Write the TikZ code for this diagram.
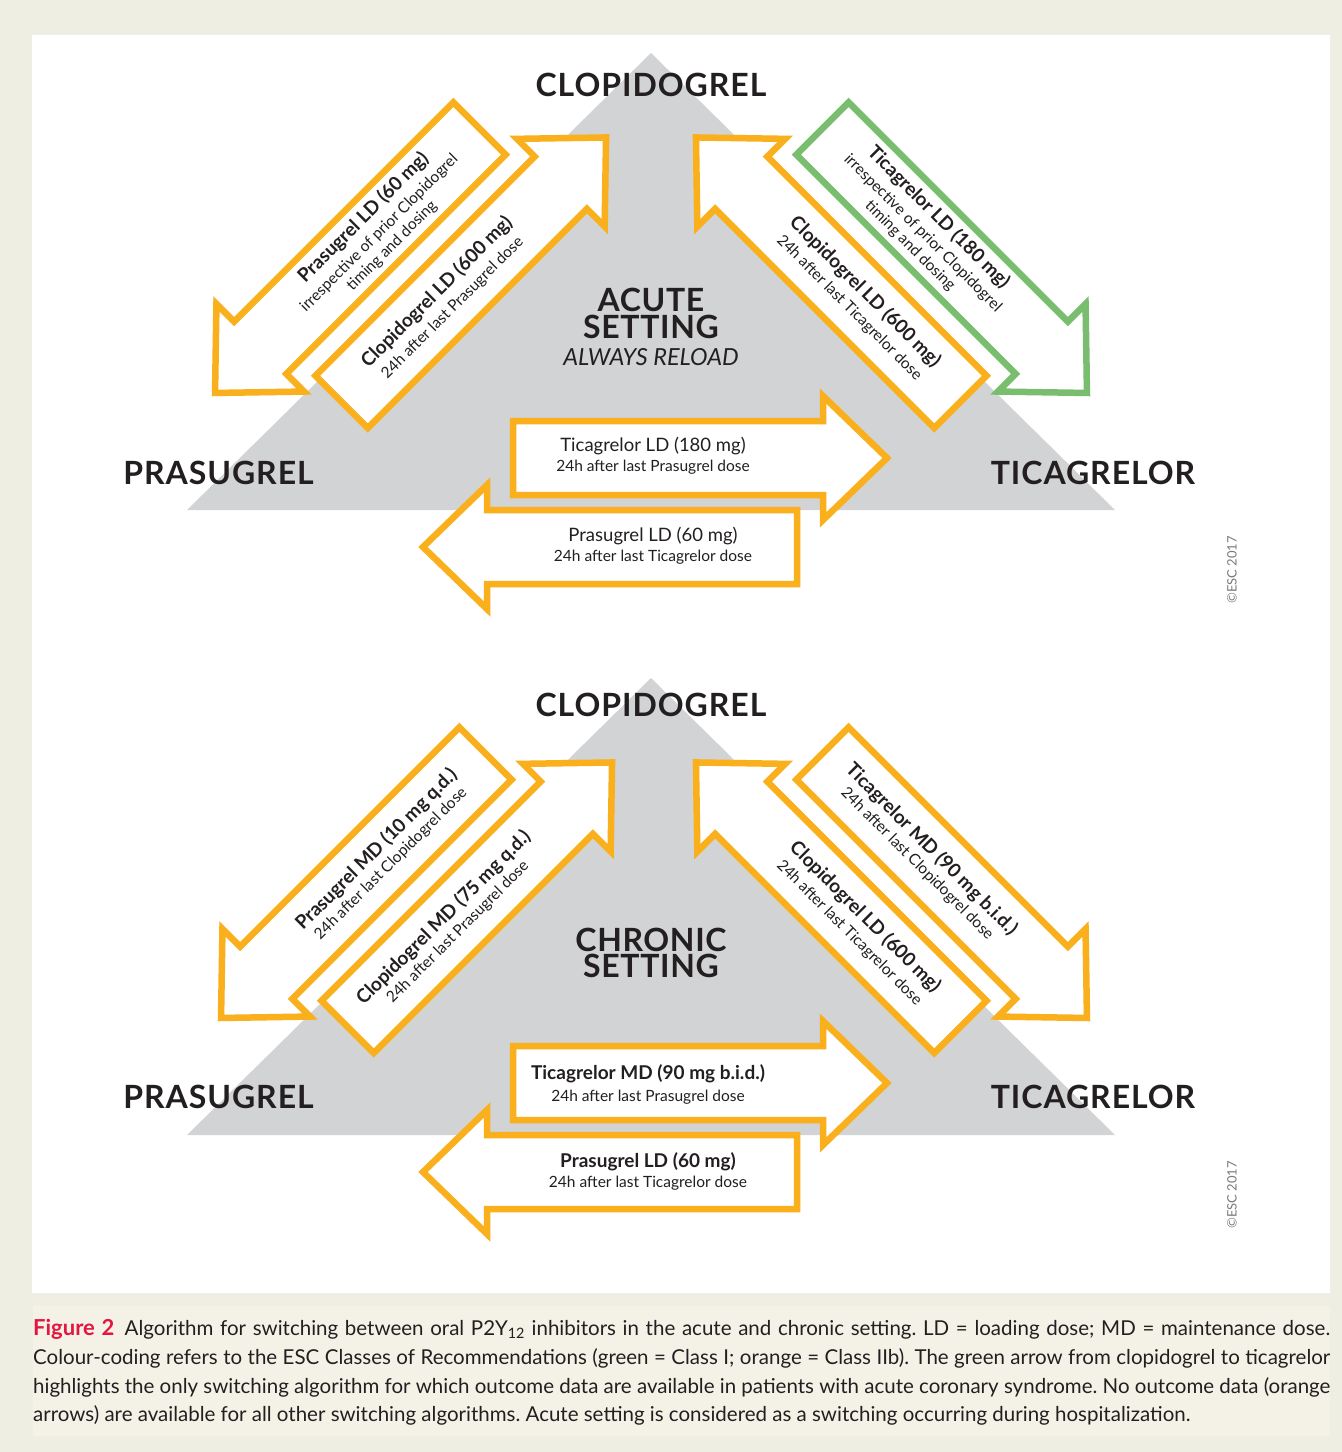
\documentclass[tikz,border=0pt]{standalone}
\usepackage{fontspec}
\setmainfont{Lato}

\definecolor{escorange}{HTML}{FAAF1C}
\definecolor{escgreen}{HTML}{78BE6E}
\definecolor{escgrey}{HTML}{D1D3D4}
\definecolor{escbeige}{HTML}{EFEEE3}
\definecolor{esccaption}{HTML}{F4F2E7}
\definecolor{escred}{HTML}{E2163F}
\definecolor{esctext}{HTML}{231F20}
\definecolor{esccopy}{HTML}{7A7A7A}

% block arrow: [colour]{name}{tail point}{angle}
\newcommand{\blockarrow}[4][escorange]{%
  \begin{scope}[shift={(#3)}, rotate=#4]
    \draw[blockline, draw=#1] (0,-37) -- (310,-37) -- (310,-62) -- (374,0)
      -- (310,62) -- (310,37) -- (0,37) -- cycle;
    \coordinate (#2) at (145,0);
  \end{scope}}
\newcommand{\headfont}{\fontsize{19}{21}\selectfont\bfseries}
\newcommand{\midfont}{\fontsize{18.5}{21}\selectfont}

\begin{document}
\begin{tikzpicture}[x=1pt, y=-1pt,
    blockline/.style={fill=white, line width=6.5pt, line join=miter},
    drug/.style={anchor=base, inner sep=0pt, text=esctext,
      font=\fontsize{32}{32}\selectfont\bfseries\addfontfeature{LetterSpace=3}},
    setting/.style={anchor=base, inner sep=0pt, text=esctext,
      font=\fontsize{32}{32}\selectfont\bfseries\addfontfeature{LetterSpace=2}},
    dose/.style={align=center, inner sep=0pt, text=esctext, font=\fontsize{15.5}{18}\selectfont},
    copyr/.style={rotate=90, inner sep=0pt, text=esccopy, font=\fontsize{13}{13}\selectfont},
  ]
  \useasboundingbox (0,0) rectangle (1342,1452);
  \fill[escbeige] (0,0) rectangle (1342,1452);
  \fill[white] (32,35) rectangle (1330,1293);
  \fill[esccaption] (33,1306) rectangle (1330,1436);

  % acute setting
  \fill[escgrey] (651,53) -- (1115,510) -- (187,510) -- cycle;
  \blockarrow{pa}{479.5,128.5}{225}
  \blockarrow{ca}{341.6,401.9}{45}
  \blockarrow{cb}{960.4,401.9}{135}
  \blockarrow[escgreen]{ta}{822.5,128.5}{-45}
  \blockarrow{tb}{513,458}{0}
  \blockarrow{pb}{797,547}{180}

  \node[dose, rotate=45] (pa-text) at (pa) {{\headfont Prasugrel LD (60 mg)}\\[3pt]irrespective of prior Clopidogrel\\timing and dosing};
  \node[dose, rotate=45] (ca-text) at (ca) {{\headfont Clopidogrel LD (600 mg)}\\[3pt]24h after last Prasugrel dose};
  \node[dose, rotate=-45] (cb-text) at (cb) {{\headfont Clopidogrel LD (600 mg)}\\[3pt]24h after last Ticagrelor dose};
  \node[dose, rotate=-45] (ta-text) at (ta) {{\headfont Ticagrelor LD (180 mg)}\\[3pt]irrespective of prior Clopidogrel\\timing and dosing};
  \node[dose] (tb-text) at (653,456) {{\midfont Ticagrelor LD (180 mg)}\\[2pt]24h after last Prasugrel dose};
  \node[dose] (pb-text) at (653,546) {{\midfont Prasugrel LD (60 mg)}\\[2pt]24h after last Ticagrelor dose};

  \node[drug] (clop1) at (651,96) {CLOPIDOGREL};
  \node[drug] (pras1) at (218.5,484) {PRASUGREL};
  \node[drug] (tica1) at (1093,484) {TICAGRELOR};
  \node[setting] (acute) at (651,311) {ACUTE};
  \node[setting] (set1) at (651,338) {SETTING};
  \node[anchor=base, inner sep=0pt, text=esctext, font=\fontsize{23.5}{23.5}\selectfont\itshape] (reload) at (651,365) {ALWAYS RELOAD};
  \node[copyr] (esc1) at (1232,570) {©ESC 2017};

  % chronic setting
  \begin{scope}[shift={(0,625)}]
    \fill[escgrey] (651,53) -- (1115,510) -- (187,510) -- cycle;
    \blockarrow{pc}{485.5,128.5}{225}
    \blockarrow{cc}{347.6,401.9}{45}
    \blockarrow{cd}{960.4,401.9}{135}
    \blockarrow{tc}{822.5,128.5}{-45}
    \blockarrow{td}{513,458}{0}
    \blockarrow{pd}{797,547}{180}
  \end{scope}

  \node[dose, rotate=45] (pc-text) at (pc) {{\headfont Prasugrel MD (10 mg q.d.)}\\[1pt]24h after last Clopidogrel dose};
  \node[dose, rotate=45] (cc-text) at (cc) {{\headfont Clopidogrel MD (75 mg q.d.)}\\[1pt]24h after last Prasugrel dose};
  \node[dose, rotate=-45] (cd-text) at (cd) {{\headfont Clopidogrel LD (600 mg)}\\[3pt]24h after last Ticagrelor dose};
  \node[dose, rotate=-45] (tc-text) at (tc) {{\headfont Ticagrelor MD (90 mg b.i.d.)}\\[1pt]24h after last Clopidogrel dose};
  \node[dose] (td-text) at (648,1084) {{\headfont Ticagrelor MD (90 mg b.i.d.)}\\[4pt]24h after last Prasugrel dose};
  \node[dose] (pd-text) at (648,1171) {{\headfont Prasugrel LD (60 mg)}\\[2pt]24h after last Ticagrelor dose};

  \node[drug] (clop2) at (651,716) {CLOPIDOGREL};
  \node[drug] (pras2) at (218.5,1108) {PRASUGREL};
  \node[drug] (tica2) at (1093,1108) {TICAGRELOR};
  \node[setting] (chronic) at (651,951) {CHRONIC};
  \node[setting] (set2) at (651,977) {SETTING};
  \node[copyr] (esc2) at (1232,1195) {©ESC 2017};

  % caption
  \node[anchor=north west, inner sep=0pt, text width=1297pt, align=justify, text=esctext,
    font=\fontsize{20.5}{28.8}\selectfont\frenchspacing] (caption) at (33,1319)
    {{\color{escred}\fontsize{22}{28.8}\selectfont\bfseries Figure 2}\enspace Algorithm for switching between oral P2Y\textsubscript{12} inhibitors in the acute and chronic setting. LD = loading dose; MD = maintenance dose.\linebreak
    Colour-coding refers to the ESC Classes of Recommendations (green = Class I; orange = Class IIb). The green arrow from clopidogrel to ticagrelor\linebreak
    highlights the only switching algorithm for which outcome data are available in patients with acute coronary syndrome. No outcome data (orange\linebreak
    arrows) are available for all other switching algorithms. Acute setting is considered as a switching occurring during hospitalization.};
\end{tikzpicture}
\end{document}
